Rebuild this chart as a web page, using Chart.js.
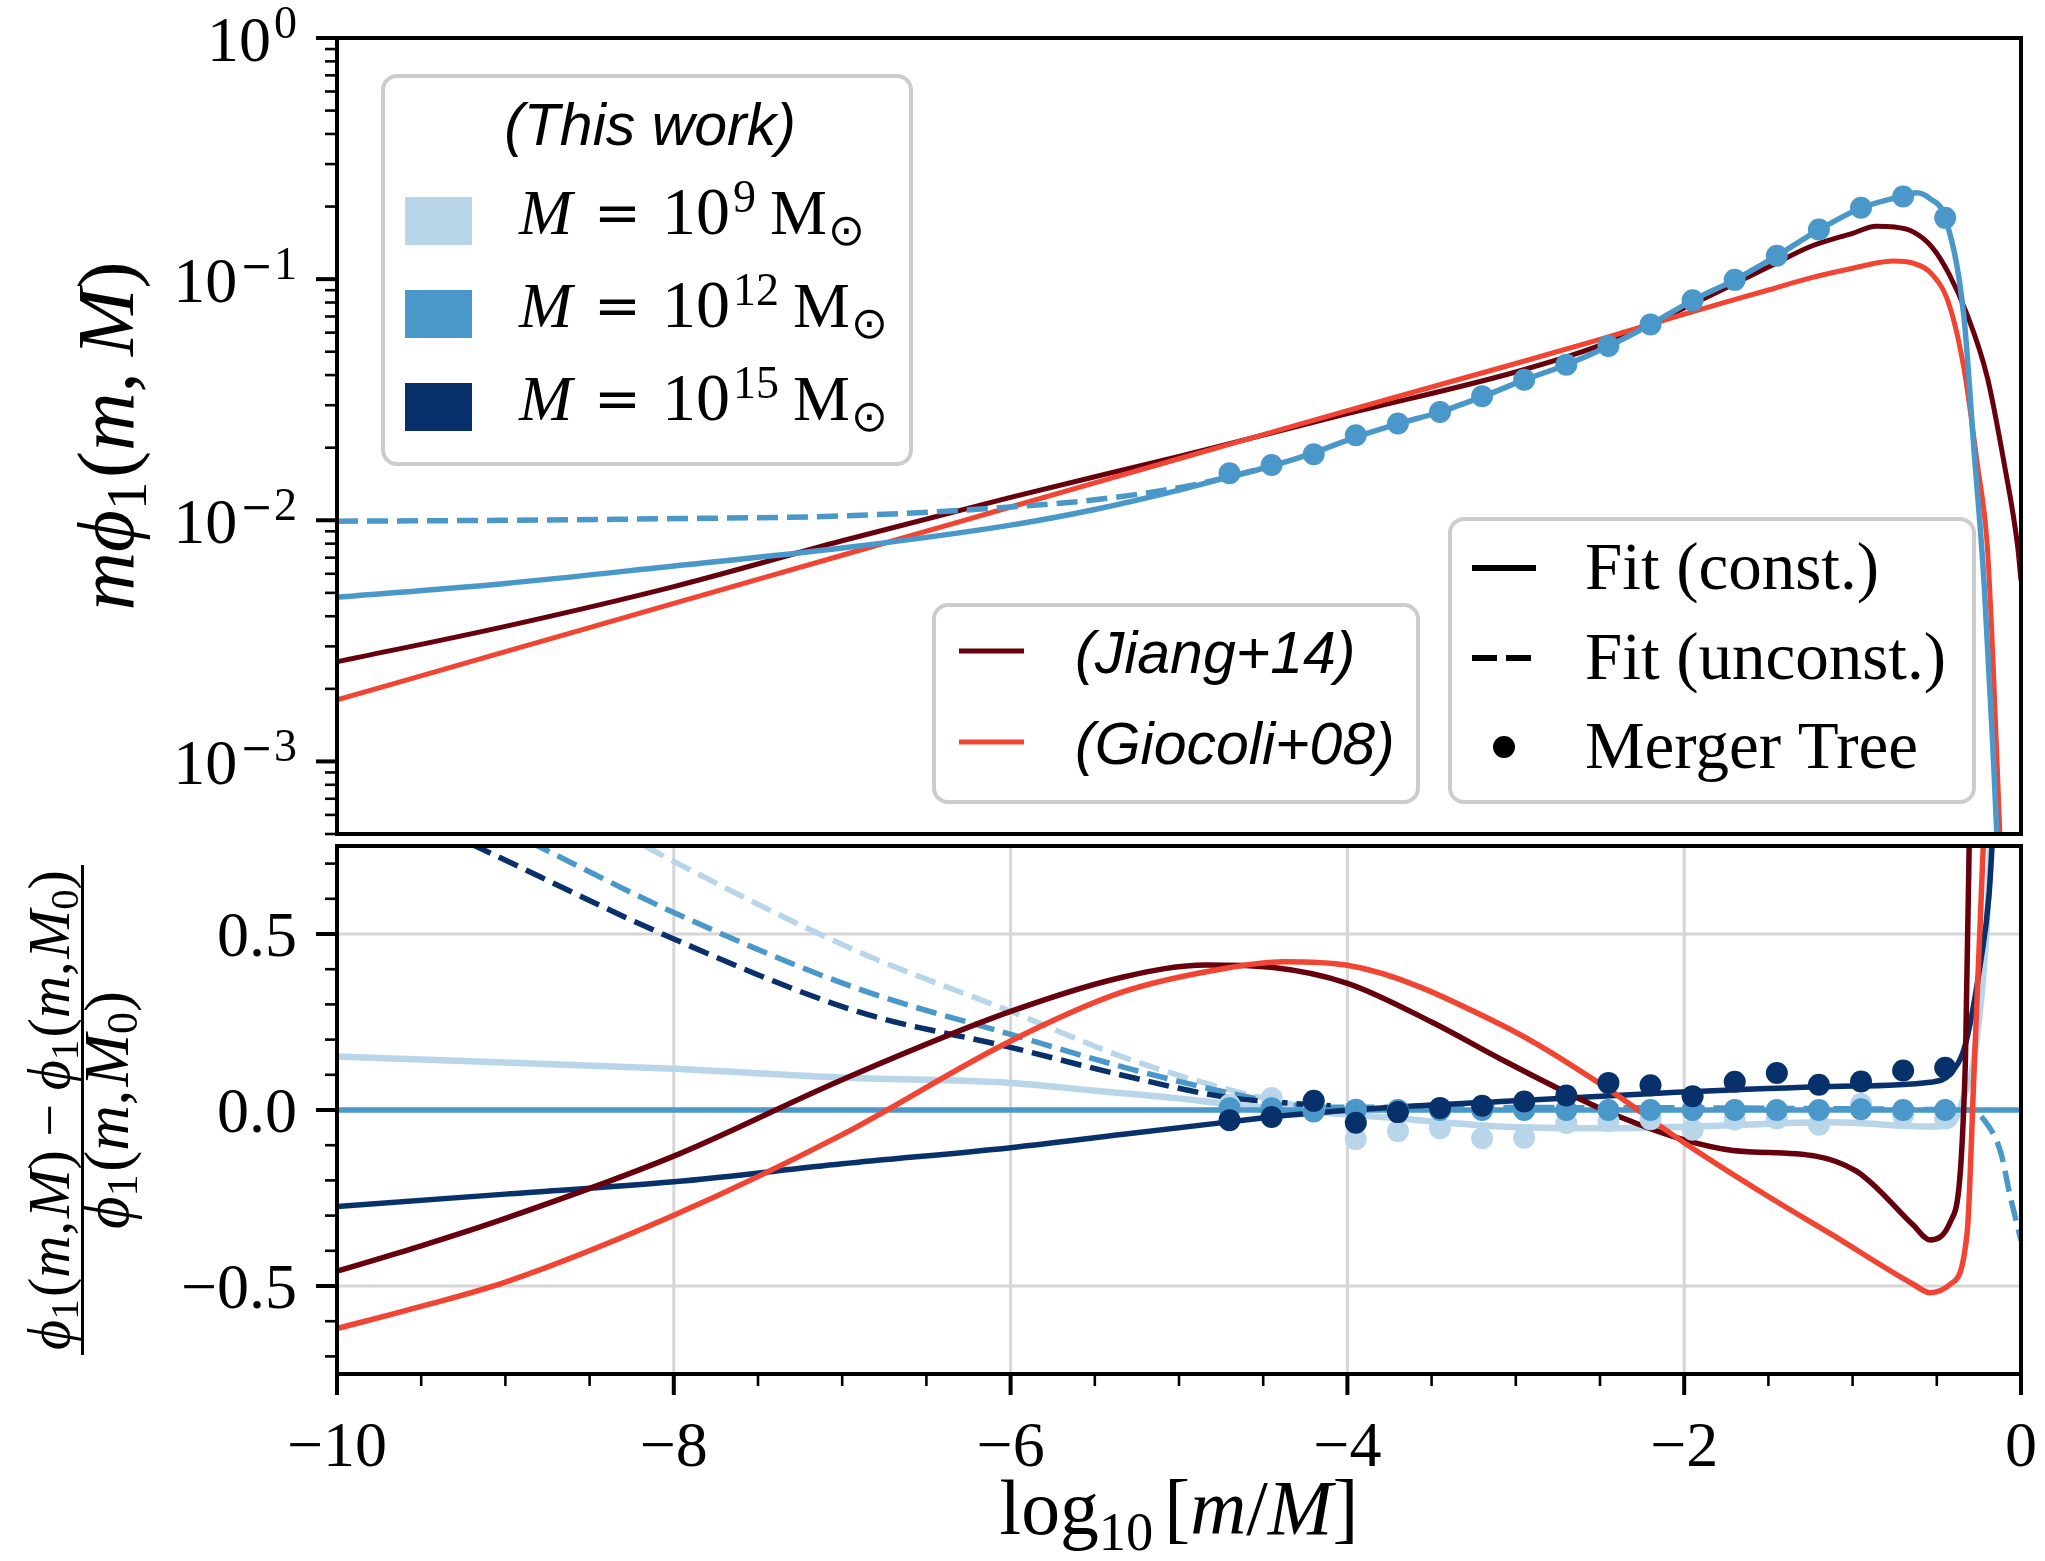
<!DOCTYPE html>
<html>
<head>
<meta charset="utf-8">
<script src="https://cdn.jsdelivr.net/npm/chart.js@4.4.0/dist/chart.umd.min.js"></script>
<style>
  html, body { margin: 0; padding: 0; background: #fff; }
  body { width: 2045px; height: 1561px; position: relative; overflow: hidden; }
  canvas { position: absolute; left: 0; }
  #topChart { top: 0; width: 2045px; height: 845px; }
  #botChart { top: 835px; width: 2045px; height: 726px; }
</style>
</head>
<body>
<canvas id="topChart" width="2045" height="845"></canvas>
<canvas id="botChart" width="2045" height="726"></canvas>
<script>
// ===== Data: upper panel, m*phi1(m, M) =====
const xTopFit12 = [-10, -9, -8, -7, -6, -5.5, -5, -4.7, -4.45, -4.2, -3.95, -3.7, -3.45, -3.2, -2.95, -2.7, -2.45, -2.2, -1.95, -1.7, -1.45, -1.2, -0.95, -0.7, -0.62, -0.54, -0.45, -0.34, -0.28, -0.22, -0.17, -0.13];
const topFitConst12 = [0.00479, 0.00547, 0.00646, 0.00767, 0.00955, 0.01109, 0.01334, 0.01514, 0.01679, 0.01905, 0.02213, 0.02512, 0.02812, 0.03251, 0.03819, 0.04416, 0.05272, 0.06486, 0.08166, 0.09931, 0.1250, 0.1600, 0.1972, 0.2213, 0.228, 0.2155, 0.1795, 0.0708, 0.01995, 0.005623, 0.001259, 0.000316];

const xTopUnc12 = [-10, -9, -8, -7, -6, -5.5, -5, -4.7, -4.45];
const topFitUnc12 = [0.00991, 0.01000, 0.01016, 0.01042, 0.01135, 0.01216, 0.01365, 0.01514, 0.01679];

const xTree = [-4.7, -4.45, -4.2, -3.95, -3.7, -3.45, -3.2, -2.95, -2.7, -2.45, -2.2, -1.95, -1.7, -1.45, -1.2, -0.95, -0.7, -0.45];
const topTree12 = [0.01567, 0.01694, 0.01879, 0.02254, 0.02518, 0.02812, 0.03266, 0.03828, 0.04416, 0.05284, 0.06486, 0.08166, 0.09931, 0.1250, 0.1607, 0.1977, 0.2203, 0.1795];

const xJiangTop = [-10, -9, -8, -7, -6, -5, -4, -3, -2.5, -2, -1.5, -1.25, -1, -0.86, -0.75, -0.64, -0.53, -0.43, -0.32, -0.2, -0.1, -0.02, 0];
const jiangTop = [0.002588, 0.003631, 0.005309, 0.008222, 0.01245, 0.01841, 0.02767, 0.04121, 0.05309, 0.07586, 0.1122, 0.1365, 0.1549, 0.1656, 0.1644, 0.1570, 0.1361, 0.1059, 0.07129, 0.03917, 0.01722, 0.007816, 0.005623];

const xGioTop = [-10, -9, -8, -7, -6, -5, -4, -3, -2.5, -2, -1.5, -1.25, -1, -0.85, -0.76, -0.64, -0.53, -0.43, -0.34, -0.26, -0.2, -0.165, -0.12];
const gioTop = [0.001799, 0.002851, 0.004519, 0.007161, 0.01135, 0.01799, 0.02851, 0.04467, 0.05623, 0.07161, 0.09016, 0.1012, 0.1109, 0.1169, 0.1189, 0.1164, 0.1050, 0.07962, 0.04305, 0.01722, 0.007816, 0.002512, 0.000398];

// ===== Data: lower panel, relative difference =====
const xBot9 = [-10, -9, -8, -7, -6, -5.5, -5, -4.73, -4.45, -4.2, -3.8, -3.09, -2.5, -2, -1.12, -0.54, -0.42, -0.33, -0.28, -0.21, -0.17];
const botFit9 = [0.152, 0.135, 0.117, 0.092, 0.077, 0.055, 0.033, 0.018, 0.006, -0.005, -0.02, -0.047, -0.052, -0.048, -0.035, -0.047, -0.043, 0.05, 0.14, 0.47, 0.85];

const xBot12 = [-10, 0];
const botFit12 = [0, 0];

const xBot15 = [-10, -9, -8, -7, -6, -5.33, -4.69, -4.44, -3.82, -3.09, -2.1, -1.12, -0.54, -0.42, -0.33, -0.24, -0.19, -0.16];
const botFit15 = [-0.274, -0.239, -0.204, -0.153, -0.107, -0.069, -0.033, -0.019, 0.005, 0.024, 0.049, 0.067, 0.079, 0.103, 0.187, 0.42, 0.61, 0.85];

const xUnc9 = [-8.17, -8, -6.91, -6, -5.33, -4.73, -4.44, -4.2];
const botUnc9 = [0.75, 0.706, 0.451, 0.280, 0.150, 0.061, 0.028, 0.005];
const xUnc12 = [-8.85, -8, -6.91, -6, -5.33, -4.73, -4.44, -4.2, -0.3, -0.22, -0.12, -0.065, 0];
const botUnc12 = [0.76, 0.561, 0.345, 0.215, 0.122, 0.051, 0.024, 0.008, 0, -0.028, -0.121, -0.243, -0.37];
const xUnc15 = [-9.2, -8, -6.91, -6, -5.33, -4.73, -4.33, -4.1];
const botUnc15 = [0.755, 0.486, 0.280, 0.178, 0.098, 0.037, 0.019, 0.012];

const xJiangBot = [-10, -9.5, -9, -8, -7, -6, -5.33, -4.84, -4.44, -4, -3.5, -3.09, -2.7, -2.38, -2, -1.71, -1.22, -0.98, -0.86, -0.64, -0.54, -0.42, -0.33, -0.3];
const jiangBot = [-0.458, -0.386, -0.308, -0.131, 0.086, 0.280, 0.378, 0.412, 0.405, 0.36, 0.25, 0.145, 0.05, -0.02, -0.085, -0.115, -0.131, -0.173, -0.220, -0.327, -0.369, -0.318, 0.14, 1.0];

const xGioBot = [-10, -9.5, -9, -8, -7, -6, -5.33, -4.73, -4.38, -4, -3.09, -2.5, -2, -1.51, -1.12, -0.64, -0.54, -0.42, -0.32, -0.28, -0.24, -0.22];
const gioBot = [-0.621, -0.558, -0.489, -0.299, -0.07, 0.196, 0.336, 0.402, 0.421, 0.411, 0.243, 0.075, -0.093, -0.243, -0.355, -0.495, -0.519, -0.495, -0.350, 0.094, 0.56, 0.8];

const botTree9 = [0.015, 0.034, 0.0, -0.083, -0.060, -0.052, -0.080, -0.079, -0.037, -0.031, -0.026, -0.056, -0.027, -0.024, -0.042, 0.017, -0.015, -0.024];
const botTree12 = [0.005, 0.005, -0.004, 0.001, 0, 0, 0, 0, 0, 0, 0, 0, 0, 0, 0, 0.002, 0, 0];
const botTree15 = [-0.029, -0.020, 0.026, -0.036, -0.006, 0.006, 0.012, 0.024, 0.041, 0.077, 0.070, 0.039, 0.080, 0.105, 0.072, 0.081, 0.112, 0.120];

// ===== Ticks and labels =====
const topTickValues = [1, 0.1, 0.01, 0.001];
const topTickExps = ['0', '\u22121', '\u22122', '\u22123'];
const xTickValues = [-10, -8, -6, -4, -2, 0];
const xTickLabels = ['\u221210', '\u22128', '\u22126', '\u22124', '\u22122', '0'];
const xGridValues = [-8, -6, -4, -2];
const yBotTickValues = [0.5, 0, -0.5];
const yBotTickLabels = ['0.5', '0.0', '\u22120.5'];
const massExps = ['9', '12', '15'];

// ===== Styles =====
const C9 = '#b8d5ea', C12 = '#4a98c9', C15 = '#08306b';
const CJ = '#67000d', CG = '#f14432';
const SERIF = "'Liberation Serif', 'DejaVu Serif', serif";
const SANS = "'Liberation Sans', 'DejaVu Sans', sans-serif";
const SYM = "'DejaVu Sans', 'DejaVu Serif', sans-serif";
const DASH = [21, 9];
const TICK_FONT = '64px ' + SERIF;

function pts(xs, ys) {
    return xs.map((x, i) => ({ x: x, y: ys[i] }));
}

function lineSet(xs, ys, color, width, dash, order) {
    return {
        data: pts(xs, ys), borderColor: color, borderWidth: width, borderDash: dash || [],
        pointRadius: 0, fill: false, cubicInterpolationMode: 'monotone', order: order
    };
}

function dotSet(xs, ys, color, order) {
    return {
        data: pts(xs, ys), showLine: false, pointRadius: 11, pointBackgroundColor: color,
        pointBorderColor: color, pointBorderWidth: 0, order: order
    };
}

function strokeLine(ctx, x1, y1, x2, y2) {
    ctx.beginPath(); ctx.moveTo(x1, y1); ctx.lineTo(x2, y2); ctx.stroke();
}

function roundBox(ctx, x, y, w, h, r) {
    ctx.beginPath();
    ctx.moveTo(x + r, y);
    ctx.arcTo(x + w, y, x + w, y + h, r);
    ctx.arcTo(x + w, y + h, x, y + h, r);
    ctx.arcTo(x, y + h, x, y, r);
    ctx.arcTo(x, y, x + w, y, r);
    ctx.closePath();
    ctx.fillStyle = 'rgba(255,255,255,0.8)';
    ctx.fill();
    ctx.setLineDash([]);
    ctx.strokeStyle = '#cccccc';
    ctx.lineWidth = 4;
    ctx.stroke();
}

// rich text: list of {t, sz, it, dy, gap, fam}
function richLayout(ctx, parts, k) {
    let w = 0;
    const items = parts.map(p => {
        const font = (p.it ? 'italic ' : '') + (p.sz * k).toFixed(1) + 'px ' + (p.fam || SERIF);
        ctx.font = font;
        const pw = ctx.measureText(p.t).width;
        const item = { t: p.t, font: font, x: w, dy: (p.dy || 0) * k };
        w += pw + (p.gap || 0) * k;
        return item;
    });
    return { items: items, width: w };
}

function drawRich(ctx, parts, x, y, align, k) {
    const L = richLayout(ctx, parts, k || 1);
    const x0 = align === 'center' ? x - L.width / 2 : align === 'right' ? x - L.width : x;
    ctx.textAlign = 'left';
    ctx.textBaseline = 'alphabetic';
    ctx.fillStyle = '#000';
    L.items.forEach(it => { ctx.font = it.font; ctx.fillText(it.t, x0 + it.x, y + it.dy); });
    return L.width;
}

function fitScale(ctx, parts, target) {
    return target / richLayout(ctx, parts, 1).width;
}

// exponent like "−1": wide minus + serif digit
function expParts(str, sz) {
    const parts = [];
    if (str.charAt(0) === '\u2212') {
        parts.push({ t: '\u2212', sz: sz * 0.85, fam: SYM, gap: 1 });
        str = str.slice(1);
    }
    parts.push({ t: str, sz: sz });
    return parts;
}

function phiParts(sz, last) {
    return [
        { t: '\u03d5', it: true, sz: sz },
        { t: '1', sz: sz * 0.7, dy: sz * 0.15, gap: sz * 0.04 },
        { t: '(', sz: sz },
        { t: 'm', it: true, sz: sz },
        { t: ',', sz: sz, gap: sz * 0.05 },
        { t: 'M', it: true, sz: sz }
    ].concat(last ? [{ t: '0', sz: sz * 0.7, dy: sz * 0.15 }] : []).concat([{ t: ')', sz: sz }]);
}

// ===== Upper panel decorations =====
const topDecor = {
    id: 'topDecor',
    afterDraw(chart) {
        const ctx = chart.ctx, a = chart.chartArea, ys = chart.scales.y;
        ctx.save();
        ctx.strokeStyle = '#000';
        ctx.setLineDash([]);

        // log ticks
        for (let d = -4; d <= 0; d++) {
            for (let m = 1; m <= 9; m++) {
                const v = m * Math.pow(10, d);
                if (v < ys.min * 0.999 || v > ys.max * 1.001) continue;
                const py = ys.getPixelForValue(v);
                ctx.lineWidth = m === 1 ? 4 : 2.6;
                strokeLine(ctx, a.left, py, a.left - (m === 1 ? 21 : 12), py);
            }
        }
        const labelRight = 297;
        topTickValues.forEach((v, i) => {
            const py = ys.getPixelForValue(v);
            const ep = expParts(topTickExps[i], 46);
            const we = richLayout(ctx, ep, 1).width;
            drawRich(ctx, ep, labelRight, py, 'right');
            ctx.fillStyle = '#000';
            ctx.font = TICK_FONT;
            ctx.textAlign = 'right';
            ctx.fillText('10', labelRight - we - 3, py + 23);
        });

        // y title
        const yTitle = [
            { t: 'm', it: true, sz: 70 },
            { t: '\u03d5', it: true, sz: 70 },
            { t: '1', sz: 49, dy: 11, gap: 3 },
            { t: '(', sz: 70 },
            { t: 'm', it: true, sz: 70 },
            { t: ',', sz: 70, gap: 14 },
            { t: 'M', it: true, sz: 70 },
            { t: ')', sz: 70 }
        ];
        const k = fitScale(ctx, yTitle, 349);
        ctx.save();
        ctx.translate(133, (a.top + a.bottom) / 2);
        ctx.rotate(-Math.PI / 2);
        drawRich(ctx, yTitle, 0, 0, 'center', k);
        ctx.restore();

        // legend: halo masses
        roundBox(ctx, 383, 76, 528, 388, 14);
        ctx.fillStyle = '#000';
        ctx.font = 'italic 59px ' + SANS;
        ctx.textAlign = 'center';
        ctx.textBaseline = 'alphabetic';
        ctx.fillText('(This work)', 650, 145);
        [C9, C12, C15].forEach((c, i) => {
            const yb = 234 + i * 93;
            ctx.fillStyle = c;
            ctx.fillRect(405, 197 + i * 93, 67, 48);
            ctx.fillStyle = '#000';
            ctx.textAlign = 'left';
            ctx.font = 'italic 64px ' + SERIF;
            ctx.fillText('M', 519, yb);
            ctx.font = '56px ' + SYM;
            ctx.fillText('=', 594, yb - 2);
            ctx.font = '68px ' + SERIF;
            ctx.fillText('10', 662, yb);
            ctx.font = '46px ' + SERIF;
            ctx.fillText(massExps[i], 733, yb - 22);
            const xm = 733 + ctx.measureText(massExps[i]).width + 14;
            ctx.font = '64px ' + SERIF;
            ctx.fillText('M', xm, yb);
            const xs = xm + ctx.measureText('M').width + 1;
            ctx.font = '44px ' + SYM;
            ctx.fillText('\u2299', xs, yb + 11);
        });

        // legend: literature
        roundBox(ctx, 934, 605, 484, 197, 14);
        ctx.lineWidth = 5;
        ctx.strokeStyle = CJ;
        strokeLine(ctx, 959, 651, 1024, 651);
        ctx.strokeStyle = CG;
        strokeLine(ctx, 959, 742, 1024, 742);
        ctx.fillStyle = '#000';
        ctx.font = 'italic 59px ' + SANS;
        ctx.textAlign = 'left';
        ctx.fillText('(Jiang+14)', 1075, 673);
        ctx.fillText('(Giocoli+08)', 1075, 764);

        // legend: line styles
        roundBox(ctx, 1450, 519, 524, 283, 14);
        ctx.strokeStyle = '#000';
        ctx.lineWidth = 6;
        strokeLine(ctx, 1472, 568, 1536, 568);
        ctx.setLineDash([25, 9]);
        strokeLine(ctx, 1472, 658, 1536, 658);
        ctx.setLineDash([]);
        ctx.fillStyle = '#000';
        ctx.beginPath();
        ctx.arc(1504, 747, 11, 0, Math.PI * 2);
        ctx.fill();
        ctx.font = '67px ' + SERIF;
        ctx.textAlign = 'left';
        ctx.fillText('Fit (const.)', 1585, 589);
        ctx.fillText('Fit (unconst.)', 1585, 679);
        ctx.fillText('Merger Tree', 1585, 768);

        // frame
        ctx.strokeStyle = '#000';
        ctx.lineWidth = 4;
        ctx.strokeRect(a.left, a.top, a.right - a.left, a.bottom - a.top);
        ctx.restore();
    }
};

// ===== Lower panel decorations =====
const botDecor = {
    id: 'botDecor',
    beforeDatasetsDraw(chart) {
        const ctx = chart.ctx, a = chart.chartArea, xs = chart.scales.x, ys = chart.scales.y;
        ctx.save();
        ctx.strokeStyle = '#d6d6d6';
        ctx.lineWidth = 3;
        xGridValues.forEach(v => { const px = xs.getPixelForValue(v); strokeLine(ctx, px, a.top, px, a.bottom); });
        yBotTickValues.forEach(v => { const py = ys.getPixelForValue(v); strokeLine(ctx, a.left, py, a.right, py); });
        ctx.restore();
    },
    afterDraw(chart) {
        const ctx = chart.ctx, a = chart.chartArea, xs = chart.scales.x, ys = chart.scales.y;
        ctx.save();
        ctx.strokeStyle = '#000';
        ctx.setLineDash([]);

        // x ticks every 0.5, major every 2
        for (let i = 0; i <= 20; i++) {
            const px = xs.getPixelForValue(-10 + i * 0.5);
            const major = i % 4 === 0;
            ctx.lineWidth = major ? 4 : 2.6;
            strokeLine(ctx, px, a.bottom, px, a.bottom + (major ? 21 : 12));
        }
        // y ticks every 0.1, major every 0.5
        for (let i = -7; i <= 7; i++) {
            const py = ys.getPixelForValue(i / 10);
            const major = i % 5 === 0;
            ctx.lineWidth = major ? 4 : 2.6;
            strokeLine(ctx, a.left, py, a.left - (major ? 21 : 12), py);
        }

        ctx.fillStyle = '#000';
        ctx.font = TICK_FONT;
        ctx.textBaseline = 'alphabetic';
        ctx.textAlign = 'center';
        xTickValues.forEach((v, i) => ctx.fillText(xTickLabels[i], xs.getPixelForValue(v), 631));
        ctx.textAlign = 'right';
        yBotTickValues.forEach((v, i) => ctx.fillText(yBotTickLabels[i], 297, ys.getPixelForValue(v) + 22));

        // x title
        const xTitle = [
            { t: 'log', sz: 70 },
            { t: '10', sz: 49, dy: 14, gap: 10 },
            { t: '[', sz: 70 },
            { t: 'm', it: true, sz: 70 },
            { t: '/', sz: 70 },
            { t: 'M', it: true, sz: 70 },
            { t: ']', sz: 70 }
        ];
        drawRich(ctx, xTitle, 1179, 699, 'center', fitScale(ctx, xTitle, 359));

        // y title: fraction
        const num = phiParts(52, false);
        num[num.length - 1].gap = 12;
        const numParts = num.concat([{ t: '\u2212', sz: 52, gap: 12 }]).concat(phiParts(52, true));
        const den = phiParts(52, true);
        const k = fitScale(ctx, numParts, 480);
        const numW = richLayout(ctx, numParts, k).width;
        ctx.save();
        ctx.translate(0, (a.top + a.bottom) / 2);
        ctx.rotate(-Math.PI / 2);
        drawRich(ctx, numParts, 0, 69, 'center', k);
        ctx.fillStyle = '#000';
        ctx.fillRect(-numW / 2 - 5, 81, numW + 10, 3);
        drawRich(ctx, den, 0, 128, 'center', k * 1.08);
        ctx.restore();

        // frame
        ctx.lineWidth = 4;
        ctx.strokeStyle = '#000';
        ctx.strokeRect(a.left, a.top, a.right - a.left, a.bottom - a.top);
        ctx.restore();
    }
};

function baseOptions(yScale, pad) {
    return {
        responsive: false, animation: false, devicePixelRatio: 1, events: [],
        layout: { padding: pad },
        plugins: { legend: { display: false }, tooltip: { enabled: false } },
        scales: {
            x: { type: 'linear', min: -10, max: 0, display: false },
            y: yScale
        }
    };
}

// ===== Charts =====
new Chart(document.getElementById('topChart'), {
    type: 'line',
    data: {
        datasets: [
            lineSet(xJiangTop, jiangTop, CJ, 5, null, 6),
            lineSet(xGioTop, gioTop, CG, 5, null, 5),
            lineSet(xTopUnc12, topFitUnc12, C12, 5.5, DASH, 4),
            lineSet(xTopFit12, topFitConst12, C12, 5.5, null, 3),
            dotSet(xTree, topTree12, C12, 1)
        ]
    },
    options: baseOptions({ type: 'logarithmic', min: 5e-4, max: 1, display: false },
        { left: 337, right: 24, top: 38, bottom: 4 }),
    plugins: [topDecor]
});

new Chart(document.getElementById('botChart'), {
    type: 'line',
    data: {
        datasets: [
            lineSet(xUnc9, botUnc9, C9, 5.5, DASH, 12),
            lineSet(xUnc12, botUnc12, C12, 5.5, DASH, 11),
            lineSet(xUnc15, botUnc15, C15, 5.5, DASH, 10),
            lineSet(xBot9, botFit9, C9, 6.5, null, 9),
            lineSet(xBot12, botFit12, C12, 5.5, null, 8),
            lineSet(xBot15, botFit15, C15, 5.5, null, 7),
            lineSet(xJiangBot, jiangBot, CJ, 5.5, null, 6),
            lineSet(xGioBot, gioBot, CG, 5.5, null, 5),
            dotSet(xTree, botTree9, C9, 3),
            dotSet(xTree, botTree12, C12, 2),
            dotSet(xTree, botTree15, C15, 1)
        ]
    },
    options: baseOptions({ type: 'linear', min: -0.75, max: 0.75, display: false },
        { left: 337, right: 24, top: 6, bottom: 187 }),
    plugins: [botDecor]
});
</script>
</body>
</html>
